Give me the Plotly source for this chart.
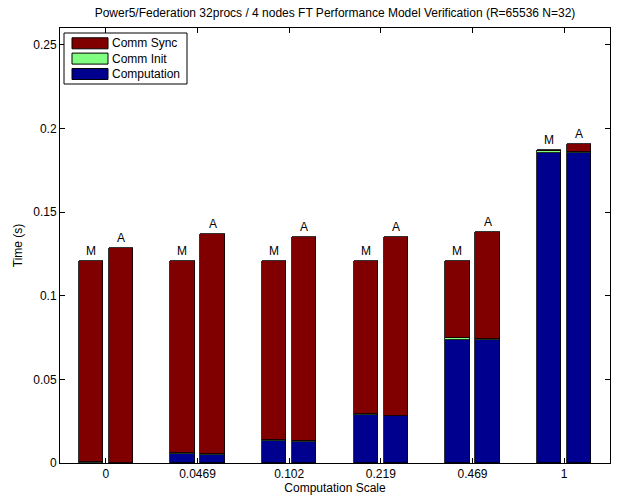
import plotly.graph_objects as go

# ---- data ----
scales = ["0", "0.0469", "0.102", "0.219", "0.469", "1"]
model_comp = [0.0, 0.0052, 0.0131, 0.0284, 0.0738, 0.1855]
model_init = [0.0008, 0.0008, 0.0008, 0.0008, 0.0010, 0.0008]
model_sync = [0.1200, 0.1148, 0.1069, 0.0916, 0.0460, 0.0005]
actual_comp = [0.0, 0.0050, 0.0127, 0.0280, 0.0736, 0.1853]
actual_init = [0.0003, 0.0003, 0.0003, 0.0003, 0.0003, 0.0004]
actual_sync = [0.1281, 0.1318, 0.1223, 0.1070, 0.0642, 0.0048]
bar_labels = ["M", "A"]
series_names = ["Computation", "Comm Init", "Comm Sync"]
y_ticks = [0, 0.05, 0.1, 0.15, 0.2, 0.25]
y_tick_text = ["0", "0.05", "0.1", "0.15", "0.2", "0.25"]

# ---- style ----
colors = {"Computation": "#00008F", "Comm Init": "#80FF80", "Comm Sync": "#800000"}
FONT = "Liberation Sans, Arial, Helvetica, sans-serif"
W, H = 618, 499
L, R, T, B = 60, 8, 28, 36
OFF, BW = 0.165, 0.265

groups = list(range(1, len(scales) + 1))
xm = [g - OFF for g in groups]
xa = [g + OFF for g in groups]
xs = xm + xa

series = {
    "Computation": model_comp + actual_comp,
    "Comm Init": model_init + actual_init,
    "Comm Sync": model_sync + actual_sync,
}

fig = go.Figure()
for name in series_names:
    fig.add_trace(go.Bar(
        x=xs, y=series[name], name=name, width=BW,
        marker=dict(color=colors[name], line=dict(color="black", width=0.8)),
        showlegend=False,
    ))

totals = [a + b + c for a, b, c in zip(series["Computation"], series["Comm Init"], series["Comm Sync"])]
annotations = []
for i, (x, t) in enumerate(zip(xs, totals)):
    annotations.append(dict(
        x=x, y=t, xref="x", yref="y", text=bar_labels[0] if i < len(groups) else bar_labels[1],
        showarrow=False, yanchor="bottom", yshift=1,
        font=dict(family=FONT, size=12, color="black"),
    ))

# custom MATLAB-like legend (paper coordinates from pixels)
pw, ph = W - L - R, H - T - B
def px(x):
    return (x - L) / pw
def py(y):
    return (H - B - y) / ph

shapes = [dict(type="rect", xref="paper", yref="paper",
               x0=px(64), x1=px(187), y0=py(84), y1=py(33),
               line=dict(color="black", width=1), fillcolor="white", layer="above")]
legend_order = ["Comm Sync", "Comm Init", "Computation"]
row_c = [43.3, 58.6, 74.0]
for name, yc in zip(legend_order, row_c):
    shapes.append(dict(type="rect", xref="paper", yref="paper",
                       x0=px(72), x1=px(108), y0=py(yc + 5.5), y1=py(yc - 5.5),
                       line=dict(color="black", width=1), fillcolor=colors[name], layer="above"))
    annotations.append(dict(x=px(110), y=py(yc), xref="paper", yref="paper", text=name,
                            showarrow=False, xanchor="left", yanchor="middle",
                            font=dict(family=FONT, size=12, color="black")))

axis_common = dict(showline=True, linecolor="black", linewidth=1, mirror="allticks",
                   ticks="inside", ticklen=5, tickcolor="black", showgrid=False, zeroline=False,
                   tickfont=dict(family=FONT, size=12, color="black"))

fig.update_layout(
    width=W, height=H, margin=dict(l=L, r=R, t=T, b=B, pad=0),
    paper_bgcolor="white", plot_bgcolor="white",
    barmode="stack", bargap=0,
    title=dict(text="Power5/Federation 32procs / 4 nodes FT Performance Model Verification (R=65536 N=32)",
               x=(L + pw / 2) / W, xanchor="center", y=1 - 13 / H, yanchor="middle",
               font=dict(family=FONT, size=12, color="black")),
    xaxis=dict(range=[0.5, len(scales) + 0.5], tickvals=groups, ticktext=scales,
               title=dict(text="Computation Scale", standoff=2, font=dict(family=FONT, size=12, color="black")),
               **axis_common),
    yaxis=dict(range=[0, 0.26], tickvals=y_ticks, ticktext=y_tick_text,
               title=dict(text="Time (s)", standoff=8, font=dict(family=FONT, size=12, color="black")),
               **axis_common),
    shapes=shapes, annotations=annotations, showlegend=False,
)

fig.write_html("out.html")
